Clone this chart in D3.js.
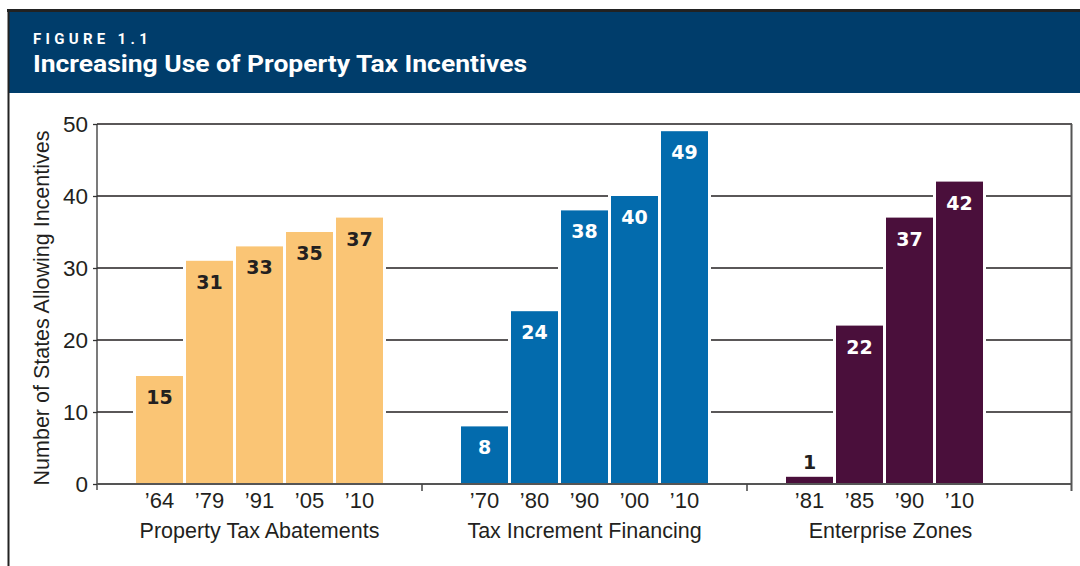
<!DOCTYPE html>
<html>
<head>
<meta charset="utf-8">
<script src="https://cdn.jsdelivr.net/npm/d3@7"></script>
<style>
  body { margin: 0; background: #fff; }
  svg { display: block; }
</style>
</head>
<body>
<div id="chart"></div>
<script>
// data
const groups = ["Property Tax Abatements", "Tax Increment Financing", "Enterprise Zones"];
const abatementYears = ["\u201964", "\u201979", "\u201991", "\u201905", "\u201910"];
const abatementValues = [15, 31, 33, 35, 37];
const tifYears = ["\u201970", "\u201980", "\u201990", "\u201900", "\u201910"];
const tifValues = [8, 24, 38, 40, 49];
const ezYears = ["\u201981", "\u201985", "\u201990", "\u201910"];
const ezValues = [1, 22, 37, 42];
const yTicks = [0, 10, 20, 30, 40, 50];

const colors = ["#fac575", "#036bad", "#4a0f3b"];
const labelColors = ["#231f20", "#fff", "#fff"];

const series = [
    {group: groups[0], years: abatementYears, values: abatementValues},
    {group: groups[1], years: tifYears, values: tifValues},
    {group: groups[2], years: ezYears, values: ezValues}
];

const W = 1080, H = 566;
const margin = {top: 124, right: 8, bottom: 82, left: 97},
    width = W - margin.left - margin.right,
    height = H - margin.top - margin.bottom;

const svg = d3.select("#chart").append("svg")
    .attr("width", W)
    .attr("height", H);

// frame + header
svg.append("rect").attr("x", 8).attr("y", 11).attr("width", W - 8).attr("height", 82).attr("fill", "#003d6b");
svg.append("line").attr("x1", 7).attr("x2", W).attr("y1", 10.5).attr("y2", 10.5)
    .attr("stroke", "#222").attr("stroke-width", 3);
svg.append("line").attr("x1", 8.5).attr("x2", 8.5).attr("y1", 9).attr("y2", H)
    .attr("stroke", "#222").attr("stroke-width", 2);

svg.append("text")
    .attr("x", 33).attr("y", 44)
    .attr("fill", "#fff")
    .style("font-family", "Roboto, 'Liberation Sans', sans-serif")
    .style("font-weight", "bold")
    .style("font-size", "15px")
    .style("letter-spacing", "4.3px")
    .text("FIGURE 1.1");
svg.append("text")
    .attr("x", 33).attr("y", 72)
    .attr("fill", "#fff")
    .attr("textLength", 494)
    .attr("lengthAdjust", "spacingAndGlyphs")
    .style("font-family", "Roboto, 'Liberation Sans', sans-serif")
    .style("font-weight", "bold")
    .style("font-size", "24px")
    .text("Increasing Use of Property Tax Incentives");

const g = svg.append("g")
    .attr("transform", "translate(" + margin.left + "," + margin.top + ")");

const y = d3.scaleLinear().domain([0, 50]).range([height, 0]);
const x0 = d3.scaleBand().domain(groups).range([0, width]);
const x1 = d3.scaleBand().domain(d3.range(5))
    .range([37.5, 287.5]).paddingInner(0.06).paddingOuter(0.03);

// gridlines
g.append("g").selectAll("line")
    .data(yTicks.filter(d => d > 0))
    .enter().append("line")
    .attr("x1", 0).attr("x2", width)
    .attr("y1", d => y(d)).attr("y2", d => y(d))
    .attr("stroke", "#231f20")
    .attr("stroke-width", d => d === 50 ? 1.5 : 1.3);

// right border
g.append("line")
    .attr("x1", width - 0.5).attr("x2", width - 0.5)
    .attr("y1", y(50)).attr("y2", height + 7)
    .attr("stroke", "#555").attr("stroke-width", 2);

// y axis
const yAxis = g.append("g")
    .call(d3.axisLeft(y).tickValues(yTicks).tickSize(4).tickPadding(5));
yAxis.select(".domain").attr("stroke", "#333").attr("stroke-width", 1.3)
    .attr("d", "M0," + y(50) + "V" + (height + 6));
yAxis.selectAll(".tick line").attr("stroke", "#333").attr("stroke-width", 1.3);
yAxis.selectAll(".tick text")
    .attr("fill", "#231f20")
    .style("font-family", "'Liberation Sans', Arial, sans-serif")
    .style("font-size", "22.5px");

g.append("text")
    .attr("transform", "translate(-48," + (height / 2 + 4) + ") rotate(-90)")
    .attr("text-anchor", "middle")
    .attr("fill", "#231f20")
    .style("font-family", "'Liberation Sans', Arial, sans-serif")
    .style("font-size", "21.5px")
    .text("Number of States Allowing Incentives");

// bars
series.forEach(function(s, gi) {
    const gx = x0(s.group);
    const bars = g.append("g").attr("transform", "translate(" + gx + ",0)");
    const data = s.values.map((v, i) => ({i: i, value: v, year: s.years[i]}));

    // white halo so gridlines stop short of the bars
    bars.selectAll(".halo")
        .data(data).enter().append("rect")
        .attr("x", d => x1(d.i) - 3)
        .attr("width", x1.bandwidth() + 6)
        .attr("y", d => y(d.value) - 3)
        .attr("height", d => height - y(d.value) + 3)
        .attr("fill", "#fff");

    bars.selectAll(".bar")
        .data(data).enter().append("rect")
        .attr("x", d => x1(d.i))
        .attr("width", x1.bandwidth())
        .attr("y", d => y(d.value))
        .attr("height", d => height - y(d.value))
        .attr("fill", colors[gi]);

    bars.selectAll(".val")
        .data(data).enter().append("text")
        .attr("x", d => x1(d.i) + x1.bandwidth() / 2)
        .attr("y", d => d.value < 3 ? y(d.value) - 8 : y(d.value) + 28)
        .attr("text-anchor", "middle")
        .attr("fill", d => d.value < 3 ? "#231f20" : labelColors[gi])
        .style("font-family", "'DejaVu Sans', sans-serif")
        .style("font-weight", "bold")
        .style("font-size", "19px")
        .text(d => d.value);

    bars.selectAll(".yr")
        .data(data).enter().append("text")
        .attr("x", d => x1(d.i) + x1.bandwidth() / 2)
        .attr("y", height + 24)
        .attr("text-anchor", "middle")
        .attr("fill", "#231f20")
        .style("font-family", "'Liberation Sans', Arial, sans-serif")
        .style("font-size", "22px")
        .text(d => d.year);

    const n = s.values.length;
    const cx = (x1(0) + x1(n - 1) + x1.bandwidth()) / 2;
    bars.append("text")
        .attr("x", cx + (n < 5 ? 6 : 0))
        .attr("y", height + 54)
        .attr("text-anchor", "middle")
        .attr("fill", "#231f20")
        .style("font-family", "'Liberation Sans', Arial, sans-serif")
        .style("font-size", "21.5px")
        .text(s.group);
});

// x axis line and group separators
g.append("line")
    .attr("x1", 0).attr("x2", width)
    .attr("y1", height).attr("y2", height)
    .attr("stroke", "#555").attr("stroke-width", 2);
g.append("g").selectAll("line")
    .data(groups.slice(1))
    .enter().append("line")
    .attr("x1", d => x0(d)).attr("x2", d => x0(d))
    .attr("y1", height).attr("y2", height + 7)
    .attr("stroke", "#444").attr("stroke-width", 1.5);
</script>
</body>
</html>
